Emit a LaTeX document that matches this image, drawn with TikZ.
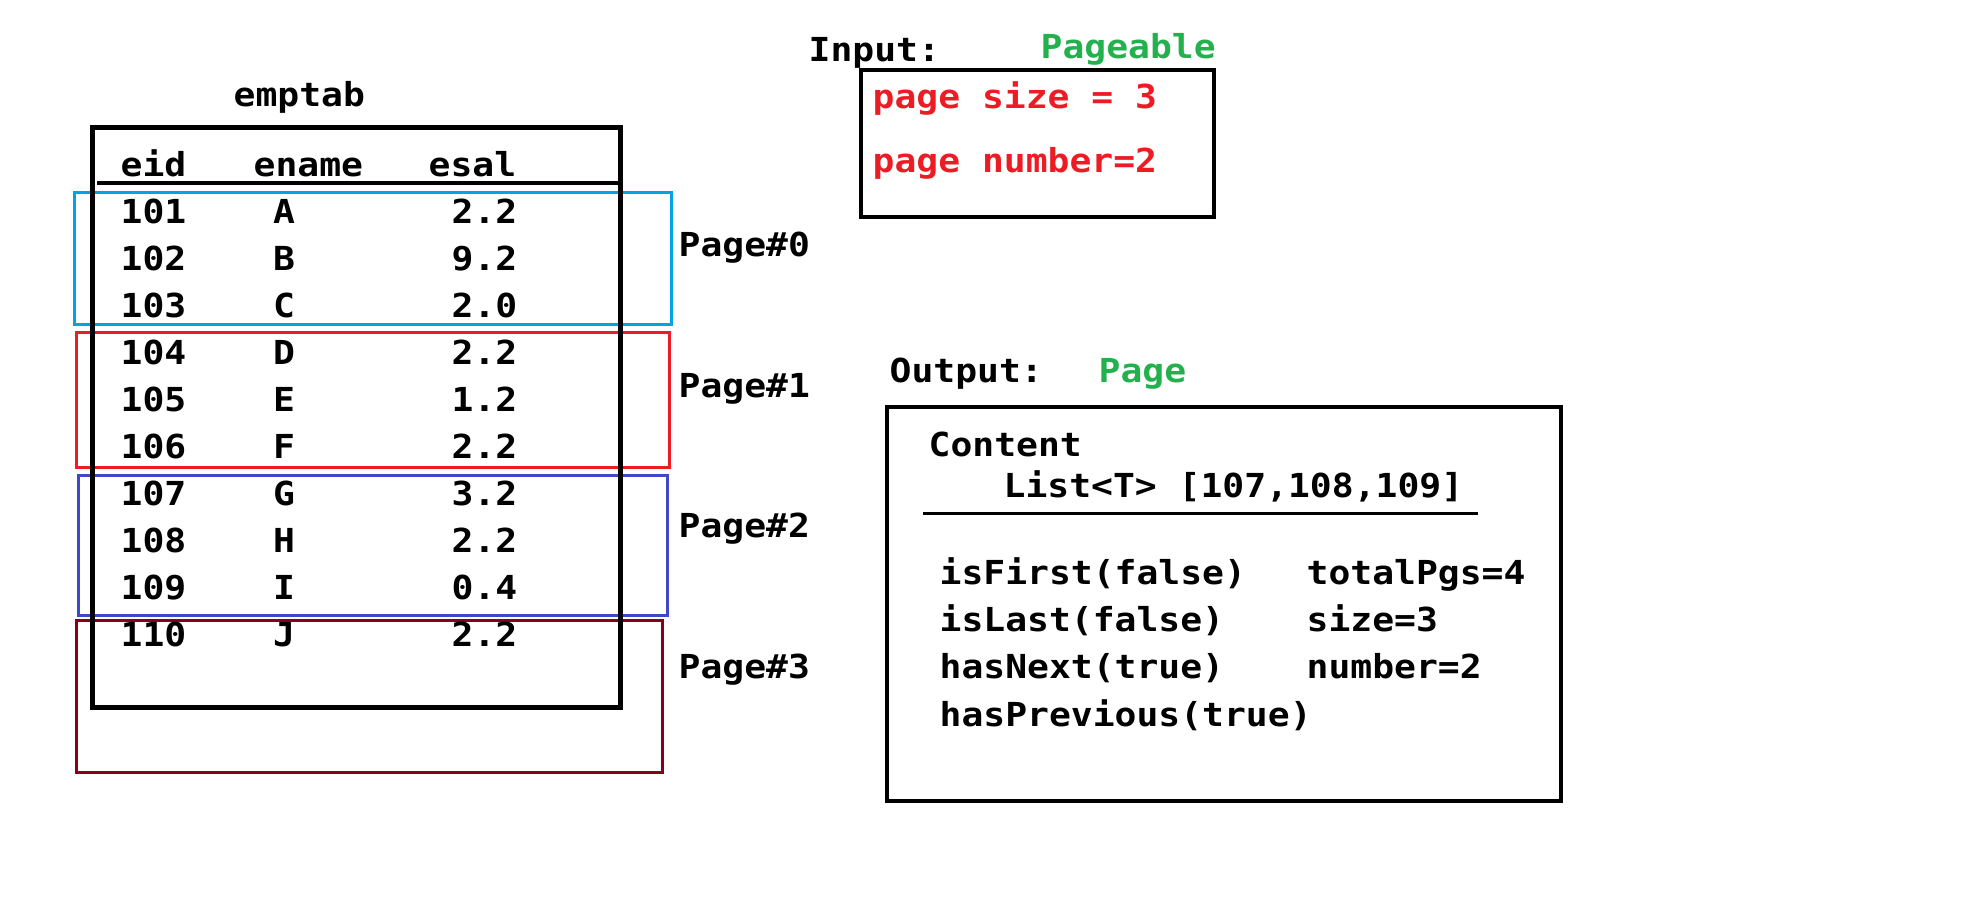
\documentclass[tikz,border=0pt]{standalone}
\usepackage{fontspec}
\usepackage{xcolor}
\usepackage{tikz}
\newfontfamily\codefont[FakeStretch = 1.1]{DejaVu Sans Mono}
\definecolor{pageblue}{RGB}{0,162,232}
\definecolor{pagered}{RGB}{237,28,36}
\definecolor{pageindigo}{RGB}{63,72,204}
\definecolor{pagemaroon}{RGB}{136,0,21}
\definecolor{typegreen}{RGB}{34,177,76}
\tikzset{
cell/.style = { anchor = base west, inner sep = 0pt, text = black, font = {\codefont\bfseries\fontsize{9.4pt}{11pt}\selectfont} },
mid cell/.style = { cell, anchor = base },
page box/.style = { draw = #1, line width = 0.3mm },
frame/.style = { draw = black, line width = 0.35mm },
}

\begin{document}
\begin{tikzpicture}[x = 0.1mm, y = -0.1mm]
    \useasboundingbox (0, 0) rectangle (1964, 898);
    % pages over the table
    \path[page box = pageblue] (74, 193) rectangle (671, 325);
    \path[page box = pagered] (76, 333) rectangle (669, 468);
    \path[page box = pageindigo] (78, 476) rectangle (667, 616);
    \path[page box = pagemaroon] (76, 621) rectangle (662, 773);
    \path[draw = black, line width = 0.5mm] (92, 128) rectangle (620, 708);
    \path[draw = black, line width = 0.45mm] (97, 183) -- (620, 183);
    \node[cell] (tab) at (233, 107) {emptab};
    \node[cell] (eid) at (120, 177) {eid};
    \node[cell] (ename) at (253, 177) {ename};
    \node[cell] (esal) at (428, 177) {esal};
    \node[cell] (id101) at (120, 224) {101};
    \node[mid cell] (name101) at (284, 224) {A};
    \node[cell] (sal101) at (451, 224) {2.2};
    \node[cell] (id102) at (120, 271) {102};
    \node[mid cell] (name102) at (284, 271) {B};
    \node[cell] (sal102) at (451, 271) {9.2};
    \node[cell] (id103) at (120, 318) {103};
    \node[mid cell] (name103) at (284, 318) {C};
    \node[cell] (sal103) at (451, 318) {2.0};
    \node[cell] (id104) at (120, 365) {104};
    \node[mid cell] (name104) at (284, 365) {D};
    \node[cell] (sal104) at (451, 365) {2.2};
    \node[cell] (id105) at (120, 412) {105};
    \node[mid cell] (name105) at (284, 412) {E};
    \node[cell] (sal105) at (451, 412) {1.2};
    \node[cell] (id106) at (120, 459) {106};
    \node[mid cell] (name106) at (284, 459) {F};
    \node[cell] (sal106) at (451, 459) {2.2};
    \node[cell] (id107) at (120, 506) {107};
    \node[mid cell] (name107) at (284, 506) {G};
    \node[cell] (sal107) at (451, 506) {3.2};
    \node[cell] (id108) at (120, 553) {108};
    \node[mid cell] (name108) at (284, 553) {H};
    \node[cell] (sal108) at (451, 553) {2.2};
    \node[cell] (id109) at (120, 600) {109};
    \node[mid cell] (name109) at (284, 600) {I};
    \node[cell] (sal109) at (451, 600) {0.4};
    \node[cell] (id110) at (120, 647) {110};
    \node[mid cell] (name110) at (284, 647) {J};
    \node[cell] (sal110) at (451, 647) {2.2};
    \node[cell] (page0) at (678, 257) {Page\#0};
    \node[cell] (page1) at (678, 398) {Page\#1};
    \node[cell] (page2) at (678, 538) {Page\#2};
    \node[cell] (page3) at (678, 679) {Page\#3};
    % input
    \node[cell] (input) at (808, 62) {Input:};
    \node[cell, text = typegreen] (pageable) at (1040, 59) {Pageable};
    \path[frame] (861, 70) rectangle (1214, 217);
    \node[cell, text = pagered] (size) at (872, 109) {page size = 3};
    \node[cell, text = pagered] (number) at (872, 173) {page number=2};
    % output
    \node[cell] (output) at (889, 383) {Output:};
    \node[cell, text = typegreen] (page) at (1098, 383) {Page};
    \path[frame] (887, 407) rectangle (1561, 801);
    \node[cell] (content) at (928, 457) {Content};
    \node[cell] (list) at (1003, 498) {List<T> [107,108,109]};
    \path[draw = black, line width = 0.3mm] (923, 514) -- (1478, 514);
    \node[cell] (first) at (939, 585) {isFirst(false)};
    \node[cell] (last) at (939, 632) {isLast(false)};
    \node[cell] (next) at (939, 679) {hasNext(true)};
    \node[cell] (previous) at (939, 727) {hasPrevious(true)};
    \node[cell] (total) at (1306, 585) {totalPgs=4};
    \node[cell] (psize) at (1306, 632) {size=3};
    \node[cell] (pnumber) at (1306, 679) {number=2};
\end{tikzpicture}
\end{document}
